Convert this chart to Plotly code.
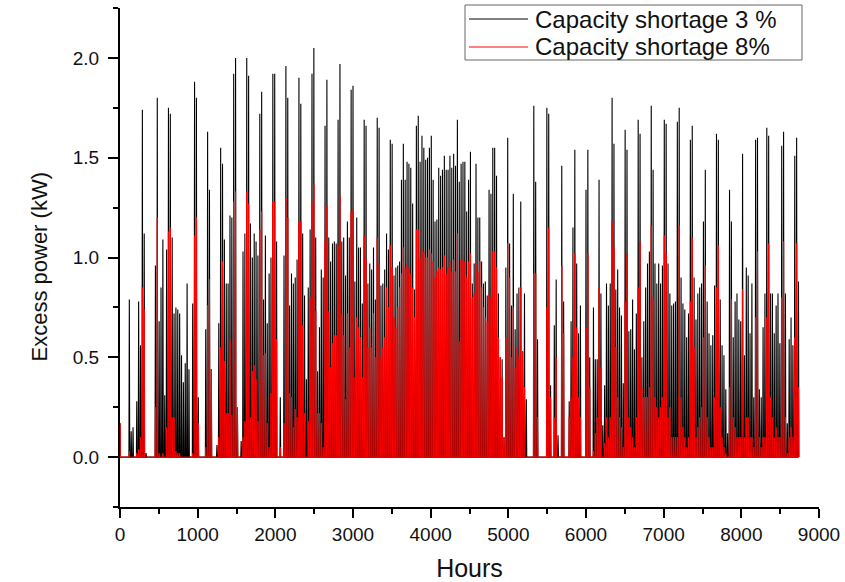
import numpy as np
import plotly.graph_objects as go

# Daily peak excess power (kW), one value per day of the year
shortage_3 = [
 .17,0,0,0,0, .79,.13,.15,0,.28, .78,.56,1.74,1.12,.02, 0,0,0,0,.96,
 1.8,.68,.85,1.09,.31, 1.04,1.75,1.72,1.1,.72, .75,.74,.72,.51,.375, .47,.87,.44,0,.77,
 1.88,1.8,.3,0,0, 0,.64,1.63,1.34,.44, 0,0,.06,.67,1.55, 1.47,1.09,.87,.87,1.21,
 1.2,1.92,2.0,.25,0, .08,1.03,1.12,2.0,1.91, 1.17,1.0,1.12,1.08,1.01, 1.72,1.83,.79,1.11,.67,
 .92,1.0,1.92,1.92,1.08, 0,.3,0,1.01,1.96, 1.8,.76,.92,.87,.9, .99,1.9,1.77,1.12,.81,
 .39,.85,1.14,1.92,2.05, 1.1,.43,.65,.94,.9, 1.66,1.89,1.1,.98,1.07, 1.08,1.07,1.69,1.97,1.08,
 1.1,.91,1.18,1.1,1.84, 1.86,.88,1.2,1.05,1.05, .77,1.69,1.66,.87,.97, .94,1.05,.79,1.7,1.65,
 .86,.87,.94,1.12,1.04, 1.59,1.57,.91,.95,.96, .98,1.39,1.57,1.39,1.48, 1.47,1.45,1.27,.84,1.66,
 1.71,1.48,1.61,1.55,1.49, 1.5,1.55,1.61,1.39,1.18, 1.19,1.45,1.41,1.44,1.51, 1.44,1.44,1.51,1.45,1.52,
 1.46,1.69,1.38,1.47,1.48, 1.48,1.23,1.39,1.53,.87, .97,1.47,1.2,1.2,.98, .87,.88,.81,1.34,1.32,
 1.55,1.55,1.41,.82,.5, .49,.1,.95,1.6,1.07, .76,1.32,.64,.82,.85, 1.28,.53,.82,.29,0,
 0,0,1.76,1.38,.59, 0,0,0,0,1.75, 1.72,.36,0,.66,.89, .11,0,1.46,.78,0,
 0,.28,.68,1.15,1.54, .97,.62,.76,0,0, 1.34,1.54,.5,0,.75, .49,.49,1.39,.82,.16,
 .36,.87,.76,.87,1.8, 1.57,.84,.94,.75,.71, .37,1.64,1.54,.63,.64, .79,.54,.72,1.69,1.62,
 .5,.68,.85,.97,1.03, 1.76,1.44,.97,.87,.97, .87,.96,1.69,1.67,.97, .82,.76,.77,.78,1.68,
 1.75,.9,.77,.74,.6, .72,1.59,1.66,.9,.69, .82,.85,.87,1.18,1.44, .78,.62,.56,.61,.86,
 1.62,1.59,.79,.56,.51, .34,.12,1.34,1.18,.6, .78,.82,.69,.68,1.52, .51,.95,.91,.62,.87,
 .3,1.59,1.6,.34,.3, .65,.82,1.65,1.61,.82, .82,.62,.76,.82,.57, 1.56,1.63,.82,.17,.59,
 .7,.56,1.51,1.6,.88,
]
shortage_8 = [
 .17,0,0,0,0, .03,0,0,0,.02, .04,.1,.85,.74,0, 0,0,0,0,.25,
 1.2,.02,0,.02,0, .15,1.13,1.15,.2,.2, .03,.02,.02,0,0, 0,0,0,0,.02,
 1.11,1.2,.17,0,0, 0,.05,.76,.89,.44, 0,0,0,.1,.55, .98,.48,.22,.22,.59,
 .21,1.28,1.33,.25,0, 0,.1,.18,1.33,1.27, .2,.43,.46,.39,.18, 1.14,1.23,.51,.52,.17,
 .05,.32,1.28,1.28,.59, 0,.05,0,.17,1.3, 1.2,.32,.3,.15,.24, .2,1.18,1.18,.66,.22,
 0,.18,.8,1.28,1.37, .73,.22,.22,.17,.05, 1.08,1.26,.73,.45,.57, .61,.61,1.06,1.31,.72,
 .61,.29,.72,.55,1.23, 1.24,.4,.7,.65,.6, .4,1.11,.99,.55,.65, .55,.72,.5,1.1,.97,
 .5,.55,.6,.85,.75, 1.06,.95,.7,.65,.75, .85,.92,1.05,.95,.97, .95,.92,.85,.7,1.14,
 1.14,1.0,1.04,1.03,1.0, 1.0,1.04,1.02,.98,.9, .93,.95,.94,.95,1.01, .92,.95,.98,.93,.99,
 .93,1.12,.58,.99,.99, .98,.9,.98,1.02,.8, .82,.97,.93,.98,.85, .75,.7,.68,.82,.8,
 1.03,1.03,.95,.6,.5, .4,.1,.6,1.07,.9, .5,.75,.45,.55,.5, .85,.53,.35,0,0,
 0,0,.92,.92,.2, 0,0,0,0,.75, 1.15,.3,0,.2,.5, 0,0,.96,.62,0,
 0,.2,.3,.5,1.02, .65,.3,.2,0,0, .65,1.02,.35,0,.03, .12,.2,.85,.45,0,
 .07,.2,.1,.2,1.18, 1.05,.55,.3,.2,.15, .05,.78,1.02,.2,.15, .1,.05,.2,.85,1.08,
 .35,.3,.3,.3,.35, 1.16,.8,.3,.25,.2, .25,.3,1.11,1.02,.2, .25,.1,.1,.1,.1,
 1.16,.3,.15,.1,.05, .1,.78,1.1,.55,.1, .15,.2,.25,.6,.96, .2,.1,.05,.05,.3,
 .85,1.06,.25,.1,.05, .02,0,.35,.79,.2, .15,.1,.1,.1,.84, .1,.2,.2,.1,.1,
 .05,.7,1.03,.1,.05, .1,.1,.7,1.07,.3, .2,.1,.15,.1,.1, .8,1.08,.2,.02,.1,
 .15,.1,.6,1.07,.35,
]
series_names = ["Capacity shortage 3 %", "Capacity shortage 8%"]
x_ticks = [0, 1000, 2000, 3000, 4000, 5000, 6000, 7000, 8000, 9000]
y_ticks = [0.0, 0.5, 1.0, 1.5, 2.0]

FONT = "Liberation Sans, Arial, sans-serif"
W, H = 845, 582
L, R, T, B = 120, 26, 8, 75
colours = ("#000000", "#ff0000")
widths = (1.1, 1.0)


def spikes(values):
    """Each day's peak rises from and returns to the night-time zero."""
    days = np.arange(len(values)) * 24
    x = np.column_stack([days - 5, days, days + 5]).ravel()
    y = np.column_stack([np.zeros(len(values)), values, np.zeros(len(values))]).ravel()
    return np.clip(x, 0, None), y


def px(x):
    return (x - L) / (W - L - R)


def py(y):
    return 1 - (y - T) / (H - T - B)


fig = go.Figure()
for values, name, colour, width in zip((shortage_3, shortage_8), series_names, colours, widths):
    x, y = spikes(values)
    fig.add_trace(go.Scatter(x=x, y=y, mode="lines", name=name, showlegend=False,
                             line=dict(color=colour, width=width, simplify=False)))

axis = dict(showgrid=False, zeroline=False, showline=True, linecolor="#000000", linewidth=2,
            ticks="outside", tickcolor="#000000", tickwidth=2,
            tickfont=dict(family=FONT, size=19, color="#111111"))
fig.update_xaxes(range=[0, 9000], tickvals=x_ticks, ticklen=9,
                 minor=dict(dtick=500, tick0=0, ticks="outside", ticklen=5, tickwidth=2, tickcolor="#000000"),
                 title=dict(text="Hours", font=dict(family=FONT, size=25, color="#111111"), standoff=19),
                 **axis)
fig.update_yaxes(range=[-0.25, 2.25], tickvals=y_ticks, tickformat=".1f", ticklen=10, ticklabelstandoff=5,
                 minor=dict(dtick=0.25, tick0=0, ticks="outside", ticklen=5, tickwidth=2, tickcolor="#000000"),
                 **axis)

# Frame, key lines and texts of the legend box, whose rows are tighter than a native legend allows
shapes = [dict(type="rect", xref="paper", yref="paper", x0=px(465), x1=px(802), y0=py(60), y1=py(5),
               fillcolor="#ffffff", line=dict(color="#666666", width=1), layer="above")]
annotations = [dict(text="Excess power (kW)", xref="paper", yref="paper", x=px(24), y=py(267),
                    showarrow=False, textangle=-90, font=dict(family=FONT, size=22, color="#111111"))]
for name, colour, row_y in zip(series_names, colours, (19, 47)):
    shapes.append(dict(type="line", xref="paper", yref="paper", x0=px(469), x1=px(528),
                       y0=py(row_y), y1=py(row_y), line=dict(color=colour, width=1), layer="above"))
    annotations.append(dict(text=name, xref="paper", yref="paper", x=px(533), y=py(row_y),
                            xanchor="left", yanchor="middle", showarrow=False,
                            font=dict(family=FONT, size=24, color="#111111")))

fig.update_layout(
    width=W, height=H, margin=dict(l=L, r=R, t=T, b=B, autoexpand=False),
    paper_bgcolor="#ffffff", plot_bgcolor="#ffffff",
    showlegend=False, shapes=shapes, annotations=annotations,
)
fig.write_html("out.html", config={"displayModeBar": False},
               post_script="document.body.style.margin='0';")
